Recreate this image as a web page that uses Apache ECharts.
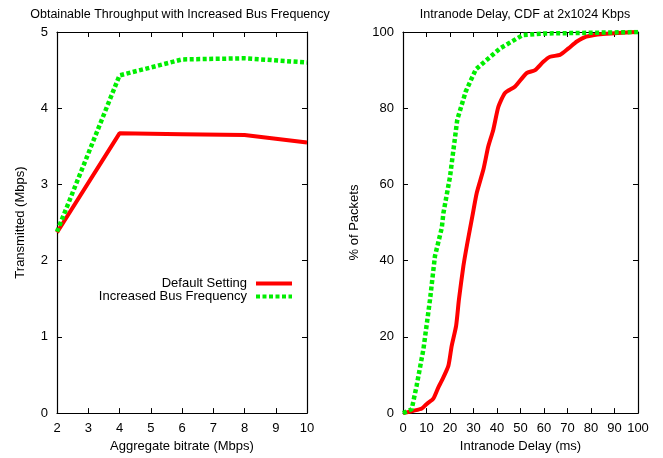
<!DOCTYPE html>
<html><head><meta charset="utf-8">
<script src="https://cdn.jsdelivr.net/npm/echarts@6/dist/echarts.min.js"></script>
<style>html,body{margin:0;padding:0;background:#fff}#c{width:663px;height:458px}</style>
</head><body><div id="c"></div>
<script>
// Left chart data
const bitrate = [2, 4, 6, 8, 10];
const defaultSetting = [2.37, 3.67, 3.66, 3.65, 3.55];
const increasedBus = [2.38, 4.43, 4.64, 4.655, 4.60];
// Right chart data (CDF)
const delayRed = [0, 1.6, 4.4, 8, 10.1, 12.9, 15, 16.5, 19.3, 20.7, 22.6, 23.8, 25.7, 27.4, 29.5, 31.4, 34.2, 36.3, 38.4, 40.6, 43.4, 47.7, 52.6, 56.2, 59.7, 62.6, 66.8, 70.4, 74, 78, 85, 95, 100];
const cdfRed =   [0, 0.2, 0.6, 1.2, 2.4, 3.8, 6.7, 8.5, 12.4, 17.6, 22.9, 29.8, 38.6, 44.7, 51.6, 57.8, 63.9, 70, 74.3, 80.4, 84, 85.7, 89.2, 90, 92.2, 93.5, 94, 95.7, 97.5, 98.8, 99.5, 99.9, 100];
const delayGreen = [0, 3.7, 5.8, 8.7, 11.5, 13.6, 16.5, 17.2, 20, 23.1, 26.7, 31, 41.3, 51, 59.7, 80, 100];
const cdfGreen =   [0, 1, 7.2, 16.8, 29.8, 41.2, 48.6, 52.5, 62, 77, 84.4, 90.2, 95.7, 99.2, 99.6, 99.8, 100];
const leftTicksX = [2, 10, 1];
const rightTicksX = [0, 100, 10];

const FONT = 'Liberation Sans';
const txt = {color: '#000', fontFamily: FONT, fontSize: 13};
const red = '#ff0000', green = '#00ee00';

function zip(a, b) { return a.map((v, i) => [v, b[i]]); }

function axisBase(min, max, interval, show, pos) {
  return {
    type: 'value', min, max, interval, position: pos,
    axisLine: {show: true, onZero: false, lineStyle: {color: '#000', width: 1.2}},
    axisTick: {show: true, inside: true, length: 5, lineStyle: {color: '#000', width: 1}},
    axisLabel: {show: show, color: '#000', fontFamily: FONT, fontSize: 13, margin: 9},
    splitLine: {show: false}
  };
}

const chart = echarts.init(document.getElementById('c'), null, {renderer: 'canvas'});
const option = {
  animation: false,
  backgroundColor: '#fff',
  title: [
    {text: 'Obtainable Throughput with Increased Bus Frequency', left: 175, top: 3, textAlign: 'center',
     textStyle: {color: '#000', fontFamily: FONT, fontSize: 12.5, fontWeight: 'normal'}},
    {text: 'Intranode Delay, CDF at 2x1024 Kbps', left: 520, top: 3, textAlign: 'center',
     textStyle: {color: '#000', fontFamily: FONT, fontSize: 12.5, fontWeight: 'normal'}}
  ],
  grid: [
    {left: 57, top: 32, width: 250, height: 382},
    {left: 403, top: 32, width: 235, height: 382}
  ],
  xAxis: [
    Object.assign(axisBase(leftTicksX[0], leftTicksX[1], leftTicksX[2], true, 'bottom'), {gridIndex: 0,
      name: 'Aggregate bitrate (Mbps)', nameLocation: 'middle', nameGap: 26, nameTextStyle: txt}),
    Object.assign(axisBase(leftTicksX[0], leftTicksX[1], leftTicksX[2], false, 'top'), {gridIndex: 0}),
    Object.assign(axisBase(rightTicksX[0], rightTicksX[1], rightTicksX[2], true, 'bottom'), {gridIndex: 1,
      name: 'Intranode Delay (ms)', nameLocation: 'middle', nameGap: 26, nameTextStyle: txt}),
    Object.assign(axisBase(rightTicksX[0], rightTicksX[1], rightTicksX[2], false, 'top'), {gridIndex: 1})
  ],
  yAxis: [
    Object.assign(axisBase(0, 5, 1, true, 'left'), {gridIndex: 0,
      name: 'Transmitted (Mbps)', nameLocation: 'middle', nameGap: 30, nameTextStyle: txt}),
    Object.assign(axisBase(0, 5, 1, false, 'right'), {gridIndex: 0}),
    Object.assign(axisBase(0, 100, 20, true, 'left'), {gridIndex: 1,
      name: '% of Packets', nameLocation: 'middle', nameGap: 42, nameTextStyle: txt}),
    Object.assign(axisBase(0, 100, 20, false, 'right'), {gridIndex: 1})
  ],
  legend: {
    data: ['Default Setting', 'Increased Bus Frequency'],
    orient: 'vertical', align: 'right', right: 369, top: 277,
    itemWidth: 36, itemHeight: 10, itemGap: 0,
    itemStyle: {opacity: 0},
    lineStyle: {width: 4},
    textStyle: {color: '#000', fontFamily: FONT, fontSize: 13, padding: [0, 4, 0, 0]},
    padding: 0
  },
  series: [
    {name: 'Default Setting', type: 'line', xAxisIndex: 0, yAxisIndex: 0, data: zip(bitrate, defaultSetting),
     showSymbol: false, symbol: 'none', lineStyle: {color: red, width: 4}, itemStyle: {color: red}},
    {name: 'Increased Bus Frequency', type: 'line', xAxisIndex: 0, yAxisIndex: 0, data: zip(bitrate, increasedBus),
     showSymbol: false, symbol: 'none', lineStyle: {color: green, width: 4.5, type: [4, 2.5]}, itemStyle: {color: green}},
    {name: 'Default Setting CDF', type: 'line', xAxisIndex: 2, yAxisIndex: 2, data: zip(delayRed, cdfRed),
     showSymbol: false, symbol: 'none', smooth: 0.2, lineStyle: {color: red, width: 4}, itemStyle: {color: red}},
    {name: 'Increased Bus Frequency CDF', type: 'line', xAxisIndex: 2, yAxisIndex: 2, data: zip(delayGreen, cdfGreen),
     showSymbol: false, symbol: 'none', lineStyle: {color: green, width: 4.5, type: [4, 2.5]}, itemStyle: {color: green}}
  ]
};
chart.setOption(option);
</script></body></html>
